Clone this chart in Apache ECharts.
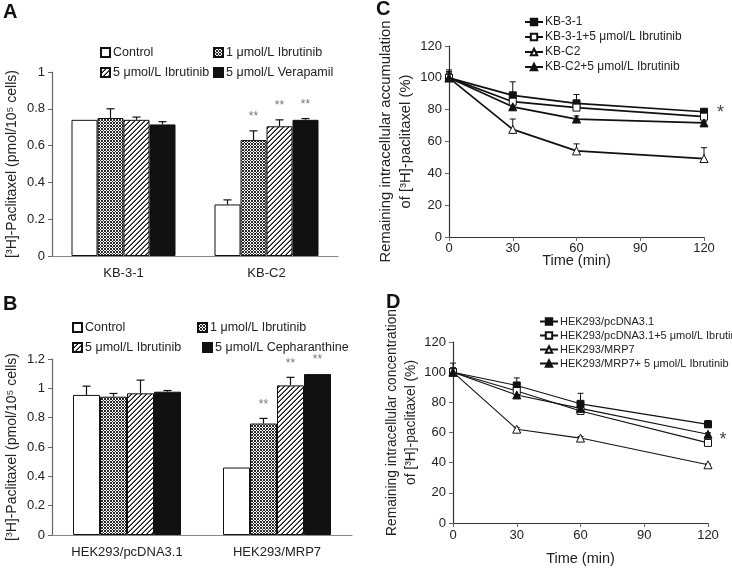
<!DOCTYPE html>
<html>
<head>
<meta charset="utf-8">
<script src="https://cdn.jsdelivr.net/npm/echarts@6/dist/echarts.min.js"></script>
<style>
  html, body { margin: 0; padding: 0; background: #fff; }
  #chart { width: 732px; height: 569px; }
</style>
</head>
<body>
<div id="chart"></div>
<script>
// ---- data ----
const barNames = ['Control', '1 μmol/L Ibrutinib', '5 μmol/L Ibrutinib'];
const nameVera = '5 μmol/L Verapamil';
const nameCeph = '5 μmol/L Cepharanthine';

// panel A
const catsA = ['KB-3-1', 'KB-C2'];
const valsA = [[0.74, 0.28], [0.75, 0.63], [0.74, 0.705], [0.715, 0.74]];
const errA = [[0, 0.025], [0.05, 0.05], [0.015, 0.035], [0.015, 0.007]];
const sigA = [[0, 0], [0, 1], [0, 1], [0, 1]];

// panel B
const catsB = ['HEK293/pcDNA3.1', 'HEK293/MRP7'];
const valsB = [[0.955, 0.46], [0.943, 0.76], [0.966, 1.02], [0.977, 1.097]];
const errB = [[0.06, 0.005], [0.022, 0.035], [0.09, 0.055], [0.008, 0.005]];
const sigB = [[0, 0], [0, 1], [0, 1], [0, 1]];

// panel C
const timesC = [0, 30, 60, 120];
const namesC = ['KB-3-1', 'KB-3-1+5 μmol/L Ibrutinib', 'KB-C2', 'KB-C2+5 μmol/L Ibrutinib'];
const valsC = [[100, 89, 84, 78.7], [100, 85, 81.3, 75.6], [100, 67.6, 54.1, 49.3], [100, 81.8, 74.1, 71.7]];
const errC = [[5, 8.5, 5.5, 1], [3, 1, 1, 1.5], [4, 6.5, 4.4, 6.8], [3, 1, 2, 1]];

// panel D
const timesD = [0, 30, 60, 120];
const namesD = ['HEK293/pcDNA3.1', 'HEK293/pcDNA3.1+5 μmol/L Ibrutinib', 'HEK293/MRP7', 'HEK293/MRP7+ 5 μmol/L Ibrutinib'];
const valsD = [[100, 91.2, 79, 65.4], [100, 87.5, 74.3, 53.1], [100, 62.2, 56.3, 38.6], [100, 84.9, 76, 58.8]];
const errD = [[6, 5, 7, 2.5], [3, 1, 1, 2], [2, 1, 1, 0.5], [2, 1, 1, 1]];

const FONT = '"Liberation Sans", Arial, sans-serif';

// fill patterns for the bars
function crossPattern() {
    const c = document.createElement('canvas');
    c.width = 3; c.height = 3;
    const ctx = c.getContext('2d');
    ctx.fillStyle = '#fff';
    ctx.fillRect(0, 0, 3, 3);
    ctx.fillStyle = '#2a2a2a';
    [[0, 0], [1, 1], [2, 2], [2, 0], [0, 2]].forEach(p => ctx.fillRect(p[0], p[1], 1, 1));
    return c;
}
function stripePattern() {
    const c = document.createElement('canvas');
    c.width = 5; c.height = 5;
    const ctx = c.getContext('2d');
    ctx.fillStyle = '#fff';
    ctx.fillRect(0, 0, 5, 5);
    for (let x = 0; x < 5; x++) {
        for (let y = 0; y < 5; y++) {
            const k = (x + y) % 5;
            if (k === 0) { ctx.fillStyle = '#111'; ctx.fillRect(x, y, 1, 1); }
            if (k === 4) { ctx.fillStyle = '#777'; ctx.fillRect(x, y, 1, 1); }
        }
    }
    return c;
}
const fills = ['#fff', { image: crossPattern(), repeat: 'repeat' }, { image: stripePattern(), repeat: 'repeat' }, '#111'];

// error bar (upward) for grouped bars, with optional ** mark
function barErrRender(idx, barW) {
    return function (params, api) {
        const c = api.value(0), base = api.value(1), top = api.value(2), sig = api.value(3);
        const p0 = api.coord([c, base]);
        const p1 = api.coord([c, top]);
        const x = p0[0] + (idx - 1.5) * barW;
        const style = { stroke: '#111', lineWidth: 1.2 };
        const kids = [];
        if (p0[1] - p1[1] > 1) {
            kids.push({ type: 'line', shape: { x1: x, y1: p0[1], x2: x, y2: p1[1] }, style });
            kids.push({ type: 'line', shape: { x1: x - 4, y1: p1[1], x2: x + 4, y2: p1[1] }, style });
        }
        if (sig) {
            kids.push({ type: 'text', style: { text: '**', x: x, y: p1[1] - 8, align: 'center', verticalAlign: 'bottom', fill: '#777', font: '12px ' + FONT } });
        }
        return { type: 'group', children: kids };
    };
}
function lineErrRender(params, api) {
    const t = api.value(0), v = api.value(1), top = api.value(2);
    const p0 = api.coord([t, v]);
    const p1 = api.coord([t, top]);
    const style = { stroke: '#111', lineWidth: 1 };
    return {
        type: 'group', children: [
            { type: 'line', shape: { x1: p0[0], y1: p0[1], x2: p1[0], y2: p1[1] }, style },
            { type: 'line', shape: { x1: p1[0] - 3, y1: p1[1], x2: p1[0] + 3, y2: p1[1] }, style }
        ]
    };
}

const series = [];
function addBars(gi, vals, errs, sigs, names, barW) {
    names.forEach((n, i) => {
        series.push({
            name: n, type: 'bar', xAxisIndex: gi, yAxisIndex: gi,
            barWidth: barW, barGap: '0%',
            itemStyle: { color: fills[i], borderColor: '#111', borderWidth: 1 },
            data: vals[i]
        });
    });
    names.forEach((n, i) => {
        series.push({
            type: 'custom', xAxisIndex: gi, yAxisIndex: gi, z: 5,
            renderItem: barErrRender(i, barW),
            encode: { x: 0, y: 2 },
            data: vals[i].map((v, c) => [c, v, v + errs[i][c], sigs[i][c]])
        });
    });
}
addBars(0, valsA, errA, sigA, barNames.concat([nameVera]), 26);
addBars(1, valsB, errB, sigB, barNames.concat([nameCeph]), 27);

const symbols = ['rect', 'rect', 'triangle', 'triangle'];
const filled = [true, false, false, true];
function addLines(gi, times, vals, errs, names, lw, starIdx, starOffset) {
    names.forEach((n, i) => {
        series.push({
            name: n, type: 'line', xAxisIndex: gi, yAxisIndex: gi, z: 4,
            symbol: symbols[i], symbolSize: symbols[i] === 'rect' ? 7 : 8,
            lineStyle: { color: '#111', width: lw },
            itemStyle: { color: filled[i] ? '#111' : '#fff', borderColor: '#111', borderWidth: 1 },
            label: {
                show: i === starIdx, position: 'right', distance: 9, offset: starOffset,
                formatter: p => (p.dataIndex === times.length - 1 ? '*' : ''),
                fontSize: 18, color: '#444', fontFamily: FONT
            },
            data: times.map((t, k) => [t, vals[i][k]])
        });
        series.push({
            type: 'custom', xAxisIndex: gi, yAxisIndex: gi, z: 3,
            renderItem: lineErrRender,
            encode: { x: 0, y: 2 },
            data: times.map((t, k) => [t, vals[i][k], vals[i][k] + errs[i][k]])
        });
    });
}
addLines(2, timesC, valsC, errC, namesC, 1.7, 1, [0, -4]);
addLines(3, timesD, valsD, errD, namesD, 1.1, 3, [-2, 6]);

const tickLabel = { fontSize: 13, color: '#222', fontFamily: FONT };
const nameStyle = { fontSize: 14, color: '#222', fontFamily: FONT, lineHeight: 19 };
function catAxis(gi, data) {
    return {
        type: 'category', gridIndex: gi, data: data,
        axisLine: { lineStyle: { color: '#888', width: 1.2 } },
        axisTick: { length: 4, lineStyle: { color: '#888' } },
        axisLabel: Object.assign({ margin: 11 }, tickLabel)
    };
}
function valAxis(gi, min, max, step, extra) {
    return Object.assign({
        type: 'value', gridIndex: gi, min: min, max: max, interval: step,
        splitLine: { show: false },
        axisLine: { show: true, lineStyle: { color: '#666', width: 1.2 } },
        axisTick: { show: true, length: 4, lineStyle: { color: '#666' } },
        axisLabel: Object.assign({ margin: 7 }, tickLabel),
        nameLocation: 'middle', nameTextStyle: nameStyle
    }, extra || {});
}

function legend(left, top, names, extra) {
    return Object.assign({
        left: left, top: top, data: names, padding: 0, orient: 'vertical',
        icon: 'rect', itemWidth: 9, itemHeight: 9, selectedMode: false,
        textStyle: { fontSize: 12.5, color: '#222', fontFamily: FONT, padding: [0, 0, 0, -2] }
    }, extra || {});
}
const lineLegend = (size, gap) => ({
    icon: undefined, itemWidth: 18, itemHeight: 8, itemGap: gap,
    textStyle: { fontSize: size, color: '#222', fontFamily: FONT, padding: [0, 0, 0, -3] }
});

const darkLine = { lineStyle: { color: '#333', width: 1.2 } };
const option = {
    animation: false,
    backgroundColor: '#fff',
    grid: [
        { left: 52, top: 72, width: 286, height: 184 },
        { left: 52, top: 359, width: 300, height: 176 },
        { left: 449, top: 46, width: 255, height: 191 },
        { left: 453, top: 342, width: 255, height: 188 }
    ],
    xAxis: [
        catAxis(0, catsA),
        catAxis(1, catsB),
        valAxis(2, 0, 120, 30, { name: 'Time (min)', nameGap: 14, nameMoveOverlap: false, axisLabel: Object.assign({ margin: 5 }, tickLabel), axisLine: darkLine, nameTextStyle: Object.assign({}, nameStyle, { fontSize: 14.5 }) }),
        valAxis(3, 0, 120, 30, { name: 'Time (min)', nameGap: 26, axisLabel: Object.assign({ margin: 6 }, tickLabel), axisLine: darkLine, nameTextStyle: Object.assign({}, nameStyle, { fontSize: 14.5 }) })
    ],
    yAxis: [
        valAxis(0, 0, 1, 0.2, { name: '[³H]-Paclitaxel (pmol/10⁵ cells)', nameGap: 30 }),
        valAxis(1, 0, 1.2, 0.2, { name: '[³H]-Paclitaxel (pmol/10⁵ cells)', nameGap: 30 }),
        valAxis(2, 0, 120, 20, { name: 'Remaining intracellular accumulation\nof [³H]-paclitaxel (%)', nameGap: 32, axisLine: darkLine, nameTextStyle: Object.assign({}, nameStyle, { fontSize: 14.8, lineHeight: 20 }) }),
        valAxis(3, 0, 120, 20, { name: 'Remaining intracellular concentration\nof [³H]-paclitaxel (%)', nameGap: 31, axisLine: darkLine, nameTextStyle: Object.assign({}, nameStyle, { fontSize: 13.8, lineHeight: 19, padding: [0, 0, 0, 20] }) })
    ],
    legend: [
        legend(100, 46, ['Control']),
        legend(213, 46, ['1 μmol/L Ibrutinib']),
        legend(100, 66, ['5 μmol/L Ibrutinib']),
        legend(213, 66, [nameVera]),
        legend(72, 321, ['Control']),
        legend(197, 321, ['1 μmol/L Ibrutinib']),
        legend(72, 341, ['5 μmol/L Ibrutinib']),
        legend(202, 341, [nameCeph]),
        legend(524, 16, namesC, lineLegend(12, 3)),
        legend(539, 316, namesD, lineLegend(11, 3))
    ],
    graphic: [
        { type: 'text', left: 3, top: 2, style: { text: 'A', font: 'bold 20px ' + FONT, fill: '#111' } },
        { type: 'text', left: 3, top: 294, style: { text: 'B', font: 'bold 20px ' + FONT, fill: '#111' } },
        { type: 'text', left: 376, top: -1, style: { text: 'C', font: 'bold 20px ' + FONT, fill: '#111' } },
        { type: 'text', left: 386, top: 292, style: { text: 'D', font: 'bold 20px ' + FONT, fill: '#111' } }
    ],
    series: series
};

const chart = echarts.init(document.getElementById('chart'));
chart.setOption(option);
</script>
</body>
</html>
